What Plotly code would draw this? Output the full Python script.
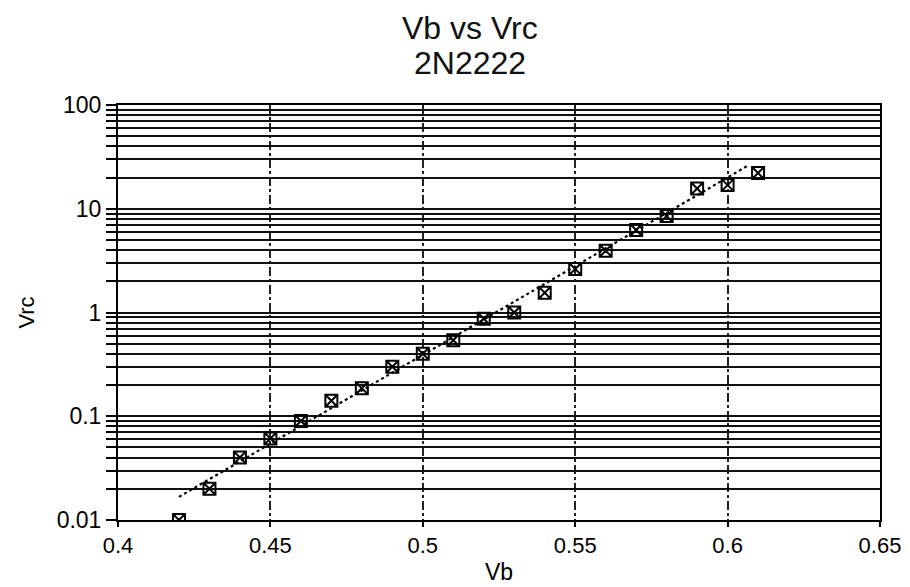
import plotly.graph_objects as go

# Measured data: base voltage Vb vs Vrc (2N2222)
vb = [0.42, 0.43, 0.44, 0.45, 0.46, 0.47, 0.48, 0.49, 0.50, 0.51,
      0.52, 0.53, 0.54, 0.55, 0.56, 0.57, 0.58, 0.59, 0.60, 0.61]
vrc = [0.010, 0.020, 0.040, 0.061, 0.090, 0.141, 0.186, 0.30, 0.40, 0.54,
       0.87, 1.00, 1.55, 2.63, 3.94, 6.24, 8.5, 15.7, 16.9, 22.1]

# Exponential fit line endpoints
fit_vb = [0.42, 0.607]
fit_vrc = [0.0167, 26.4]

title_lines = ["Vb vs Vrc", "2N2222"]
x_ticks = [0.4, 0.45, 0.5, 0.55, 0.6, 0.65]
x_ticklabels = ["0.4", "0.45", "0.5", "0.55", "0.6", "0.65"]
y_decades = [0.01, 0.1, 1, 10, 100]
y_decade_labels = ["0.01", "0.1", "1", "10", "100"]

# all grid positions (1..9 x decade)
y_tickvals = []
y_ticktext = []
for d, lab in zip(y_decades[:-1], y_decade_labels[:-1]):
    for m in range(1, 10):
        y_tickvals.append(round(d * m, 6))
        y_ticktext.append(lab if m == 1 else "")
y_tickvals.append(y_decades[-1])
y_ticktext.append(y_decade_labels[-1])

font_family = "Liberation Sans, Arial, sans-serif"

fig = go.Figure()
fig.add_trace(go.Scatter(
    x=fit_vb, y=fit_vrc, mode="lines",
    line=dict(color="black", width=2.2, dash="dot"),
    showlegend=False, hoverinfo="skip"))
fig.add_trace(go.Scatter(
    x=vb, y=vrc, mode="markers",
    marker=dict(symbol="square-x-open", size=12, color="black",
                line=dict(color="black", width=2)),
    showlegend=False))

# title as two centred text lines above the plot
for txt, ypos in zip(title_lines, [1.186, 1.102]):
    fig.add_annotation(text=txt, xref="paper", yref="paper",
                       x=0.462, y=ypos, xanchor="center", yanchor="middle",
                       showarrow=False,
                       font=dict(size=32, family=font_family, color="#111"))

# page body adds an 8px offset, so the figure is 8px smaller than the window
fig.update_layout(
    width=902, height=579,
    paper_bgcolor="white", plot_bgcolor="white",
    margin=dict(l=110, r=30, t=97, b=67, autoexpand=False),
    font=dict(family=font_family, color="black"),
    xaxis=dict(
        range=[0.4, 0.65], tickvals=x_ticks, ticktext=x_ticklabels,
        showgrid=True, gridcolor="#222", gridwidth=1.5, griddash="dashdot",
        showline=True, linecolor="black", linewidth=2, mirror=True,
        ticks="outside", ticklen=5, tickcolor="black", tickwidth=2,
        tickfont=dict(size=22), zeroline=False, automargin=False,
        title=dict(text="Vb", font=dict(size=23), standoff=6)),
    yaxis=dict(
        type="log", range=[-2, 2], tickvals=y_tickvals, ticktext=y_ticktext,
        showgrid=True, gridcolor="#111", gridwidth=2.2,
        showline=True, linecolor="black", linewidth=2, mirror=True,
        ticks="outside", ticklen=10, tickcolor="black", tickwidth=2,
        tickfont=dict(size=23), zeroline=False, automargin=False,
        title=dict(text="Vrc", font=dict(size=22), standoff=16)),
)

fig.write_html("out.html")
